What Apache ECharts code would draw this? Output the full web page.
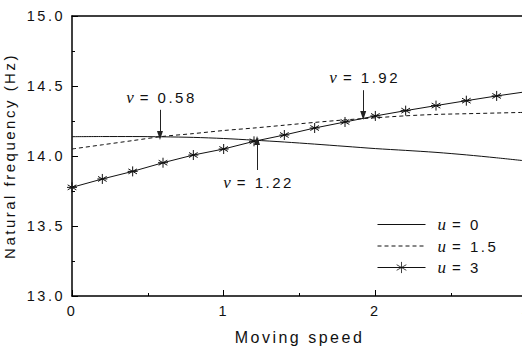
<!DOCTYPE html>
<html>
<head>
<meta charset="utf-8">
<script src="https://cdn.jsdelivr.net/npm/echarts@6/dist/echarts.min.js"></script>
<style>
html,body{margin:0;padding:0;background:#fff;overflow:hidden;}
#c{width:522px;height:351px;letter-spacing:2.5px;}
</style>
</head>
<body>
<div id="c"></div>
<script>
// ---- data ----
var speeds = [0, 0.2, 0.4, 0.6, 0.8, 1.0, 1.2, 1.4, 1.6, 1.8, 2.0, 2.2, 2.4, 2.6, 2.8, 3.0];
var freqU0  = [14.138, 14.139, 14.139, 14.137, 14.133, 14.125, 14.113, 14.100, 14.085, 14.069, 14.053, 14.040, 14.026, 14.008, 13.987, 13.964];
var freqU15 = [14.050, 14.080, 14.110, 14.140, 14.160, 14.182, 14.200, 14.220, 14.240, 14.258, 14.273, 14.287, 14.297, 14.302, 14.307, 14.312];
var freqU3  = [13.776, 13.836, 13.890, 13.952, 14.007, 14.050, 14.105, 14.150, 14.200, 14.243, 14.286, 14.324, 14.360, 14.395, 14.429, 14.460];
var seriesNames = ['u = 0', 'u = 1.5', 'u = 3'];
var legendValues = ['0', '1.5', '3'];
var crossSpeeds = [0.58, 1.22, 1.92];
var xTicks = [0, 1, 2, 3];
var yTicks = [13.0, 13.5, 14.0, 14.5, 15.0];

function pairs(ys){ return speeds.map(function(x,i){ return [x, ys[i]]; }); }

var chart = echarts.init(document.getElementById('c'), null, {renderer:'svg'});
var sans = 'Liberation Sans, Arial, sans-serif';
var serif = 'Liberation Serif, Times New Roman, serif';
var NB = '\u00a0';
var asterisk = 'path://M5,0 L5,10 M0.67,2.5 L9.33,7.5 M0.67,7.5 L9.33,2.5 M0,5 L10,5';
var blank = 'path://M0,0 L1,1';

var richText = {
  v: {fontFamily: serif, fontStyle: 'italic', fontSize: 17, color: '#111', align: 'left', padding: [0, 6, 0, 0]},
  t: {fontFamily: sans, fontSize: 15, color: '#111', align: 'left'}
};

function arrow(x, yFrom, yTo){
  return [
    {coord: [x, yFrom], label: {formatter: '{v|ν}{t|=' + NB + x.toFixed(2) + '}'}},
    {coord: [x, yTo]}
  ];
}

var option = {
  animation: false,
  backgroundColor: '#fff',
  grid: {left: 72, top: 16, width: 455, height: 280, containLabel: false, outerBoundsMode: 'none'},
  legend: {
    orient: 'vertical',
    left: 372, top: 211,
    itemWidth: 48, itemHeight: 14, itemGap: 4.5,
    data: seriesNames,
    lineStyle: {width: 1},
    itemStyle: {borderWidth: 0.8},
    formatter: function(name){
      var i = seriesNames.indexOf(name);
      return '{u|u}{t|=' + NB + legendValues[i] + '}';
    },
    textStyle: {
      rich: {
        u: {fontFamily: serif, fontStyle: 'italic', fontSize: 17, color: '#111', padding: [0,6,0,7], lineHeight: 16},
        t: {fontFamily: sans, fontSize: 15, color: '#111', lineHeight: 16}
      }
    },
    selectedMode: false
  },
  xAxis: [{
    type: 'value', min: 0, max: 3, interval: 1,
    name: 'Moving speed', nameLocation: 'middle', nameGap: 33,
    nameTextStyle: {fontFamily: sans, fontSize: 16, color: '#111'},
    axisLine: {lineStyle: {color: '#000', width: 1.5}},
    axisTick: {inside: true, length: 6, lineStyle: {color: '#000', width: 1}},
    minorTick: {show: true, splitNumber: 2, length: 3, lineStyle: {color: '#000'}},
    axisLabel: {fontFamily: sans, fontSize: 14.5, color: '#111', margin: 7, showMaxLabel: true,
      formatter: function(v){ return xTicks.indexOf(v) >= 0 ? String(v) : ''; }},
    splitLine: {show: false}
  }, {
    type: 'value', min: 0, max: 3, position: 'top',
    axisLine: {show: true, onZero: false, lineStyle: {color: '#000', width: 1.5}},
    axisTick: {show: false}, axisLabel: {show: false}, splitLine: {show: false}
  }],
  yAxis: {
    type: 'value', min: 13, max: 15, interval: 0.5,
    name: 'Natural frequency (Hz)', nameLocation: 'middle', nameGap: 55, nameRotate: 90,
    nameTextStyle: {fontFamily: sans, fontSize: 15, color: '#111'},
    axisLine: {show: true, lineStyle: {color: '#000', width: 1.5}},
    axisTick: {inside: true, length: 6, lineStyle: {color: '#000', width: 1}},
    minorTick: {show: true, splitNumber: 2, length: 3, lineStyle: {color: '#000'}},
    axisLabel: {fontFamily: sans, fontSize: 14.5, color: '#111', margin: 7,
      formatter: function(v){ return yTicks.indexOf(v) >= 0 ? v.toFixed(1) : ''; }},
    splitLine: {show: false}
  },
  series: [
    {
      name: seriesNames[0], type: 'line', data: pairs(freqU0),
      symbol: blank, showSymbol: false, smooth: 0.3,
      lineStyle: {color: '#111', width: 1}, itemStyle: {color: '#111', borderWidth: 0},
      markLine: {
        silent: true, animation: false,
        symbol: ['none', 'triangle'], symbolSize: [6, 9],
        lineStyle: {color: '#222', width: 1, type: 'solid'},
        label: {position: 'start', distance: 4, offset: [-6, 0], rich: richText},
        emphasis: {disabled: true},
        data: [
          arrow(crossSpeeds[0], 14.33, 14.146),
          arrow(crossSpeeds[1], 13.90, 14.11),
          arrow(crossSpeeds[2], 14.47, 14.29)
        ]
      }
    },
    {
      name: seriesNames[1], type: 'line', data: pairs(freqU15),
      symbol: blank, showSymbol: false, smooth: 0.3,
      lineStyle: {color: '#111', width: 1, type: [4, 3]}, itemStyle: {color: '#111', borderWidth: 0}
    },
    {
      name: seriesNames[2], type: 'line', data: pairs(freqU3),
      symbol: asterisk, symbolSize: 10, showSymbol: true,
      lineStyle: {color: '#111', width: 1},
      itemStyle: {color: '#111', borderColor: '#111', borderWidth: 1}
    }
  ]
};
chart.setOption(option);
</script>
</body>
</html>
